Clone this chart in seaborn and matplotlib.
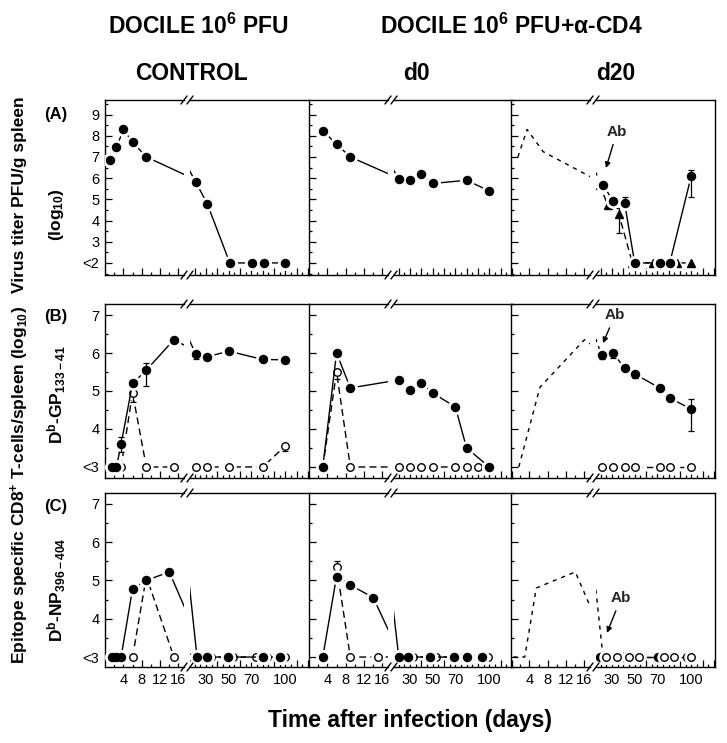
import matplotlib
matplotlib.use("Agg")
import matplotlib.pyplot as plt
import seaborn as sns
from matplotlib.lines import Line2D
from matplotlib.ticker import FixedLocator, FixedFormatter, MultipleLocator, NullFormatter

# ---------------- data: day after infection, log10 value ----------------
# (A) virus titer PFU/g spleen, 2 = "<2"
a_ctrl_day = [1, 2.5, 4, 6, 9, 21, 31, 51, 71, 81, 100]
a_ctrl_val = [6.85, 7.45, 8.3, 7.7, 7.0, 5.8, 4.8, 2, 2, 2, 2]

a_d0_day = [3, 6, 9, 20, 30, 40, 50, 80, 100]
a_d0_val = [8.25, 7.6, 7.0, 5.95, 5.9, 6.2, 5.75, 5.9, 5.4]

a_d20_ref_day = [1.5, 3.5, 7, 17, 20]
a_d20_ref_val = [7.0, 8.3, 7.25, 6.1, 5.75]
a_d20_circ_day = [22, 31, 41, 50, 72, 81, 100]
a_d20_circ_val = [5.7, 4.9, 4.85, 2, 2, 2, 6.1]
a_d20_tri_day = [19, 26, 36, 48, 66, 87, 100]
a_d20_tri_val = [5.7, 4.75, 4.3, 2, 2, 2, 2]
a_d20_circ_err = [(41, 4.85, 0.0, 0.25), (100, 6.1, 1.0, 0.3)]
a_d20_tri_err = [(36, 4.3, 0.9, 0.3)]

# (B) Db-GP33 specific CD8+ T cells, 3 = "<3"
b_ctrl_fill_day = [1.5, 2.5, 3.5, 6, 9, 15, 21, 31, 50, 80, 100]
b_ctrl_fill_val = [3, 3, 3.6, 5.2, 5.55, 6.35, 5.97, 5.9, 6.05, 5.83, 5.82]
b_ctrl_open_day = [3.5, 6, 9, 15, 21, 31, 50, 80, 100]
b_ctrl_open_val = [3, 4.95, 3, 3, 3, 3, 3, 3, 3.55]
b_ctrl_fill_err = [(3.5, 3.6, 0.2, 0.2), (6, 5.2, 0.0, 0.1), (9, 5.55, 0.42, 0.2),
                   (21, 5.97, 0.12, 0.0), (100, 5.82, 0.08, 0.0)]
b_ctrl_open_err = [(6, 4.95, 0.25, 0.0), (100, 3.55, 0.12, 0.0)]

b_d0_fill_day = [3, 6, 9, 20, 30, 40, 50, 70, 80, 100]
b_d0_fill_val = [3, 6.0, 5.08, 5.3, 5.03, 5.2, 4.95, 4.58, 3.5, 3]
b_d0_open_day = [3, 6, 9, 20, 30, 40, 50, 70, 80, 90]
b_d0_open_val = [3, 5.5, 3, 3, 3, 3, 3, 3, 3, 3]
b_d0_open_err = [(6, 5.5, 0.18, 0.0)]

b_d20_ref_day = [1.7, 6.3, 16, 20]
b_d20_ref_val = [3, 5.1, 6.35, 6.0]
b_d20_fill_day = [21, 31, 41, 50, 72, 81, 100]
b_d20_fill_val = [5.95, 6.0, 5.6, 5.45, 5.08, 4.82, 4.52]
b_d20_open_day = [21, 31, 41, 50, 72, 81, 100]
b_d20_open_val = [3, 3, 3, 3, 3, 3, 3]
b_d20_fill_err = [(21, 5.95, 0.12, 0.05), (31, 6.0, 0.12, 0.0), (50, 5.45, 0.1, 0.0),
                  (100, 4.52, 0.57, 0.28)]

# (C) Db-NP396 specific CD8+ T cells, 3 = "<3"
c_ctrl_fill_day = [1.5, 2.5, 3.5, 6, 9, 14, 22, 31, 49, 80, 95]
c_ctrl_fill_val = [3, 3, 3, 4.78, 5.0, 5.22, 3, 3, 3, 3, 3]
c_ctrl_open_day = [6, 9, 15, 18, 34, 54, 74, 84, 100]
c_ctrl_open_val = [3, 5.1, 3, 3, 3, 3, 3, 3, 3]

c_d0_fill_day = [3, 6, 9, 14, 20, 28, 48, 69, 80, 94]
c_d0_fill_val = [3, 5.1, 4.88, 4.55, 3, 3, 3, 3, 3, 3]
c_d0_open_day = [6, 9, 15, 18, 33, 53, 74, 83, 99]
c_d0_open_val = [5.35, 3, 3, 3, 3, 3, 3, 3, 3]
c_d0_open_err = [(6, 5.35, 0.0, 0.15)]

c_d20_ref_day = [0.5, 3, 5.5, 9.5, 14, 22]
c_d20_ref_val = [3, 3, 4.8, 5.0, 5.22, 3]
c_d20_fill_day = [19, 30, 40, 49, 71, 80, 96]
c_d20_fill_val = [3, 3, 3, 3, 3, 3, 3]
c_d20_open_day = [25, 34, 45, 54, 76, 85, 100]
c_d20_open_val = [3, 3, 3, 3, 3, 3, 3]

# "Ab" arrows in the d20 column: (tip day, tip value, text day, text value)
ab_arrows = {"A": (24.6, 6.48, 34.4, 8.2), "B": (22, 6.26, 32.6, 7.0), "C": (25.5, 3.63, 37.9, 4.54)}

a_yticks = [2, 3, 4, 5, 6, 7, 8, 9]
a_ylabels = ["<2", "3", "4", "5", "6", "7", "8", "9"]
bc_yticks = [3, 4, 5, 6, 7]
bc_ylabels = ["<3", "4", "5", "6", "7"]
early_ticks = [4, 8, 12, 16]
late_ticks = list(range(20, 121, 10))
late_labels = ["", "30", "", "50", "", "70", "", "", "100", "", ""]

# ---------------- layout (pixels) ----------------
W, H = 727, 743
COL_X = [105, 309, 511]
SEG_L, SEG_GAP, SEG_R = 79, 6, 119
SPLIT = 17          # days < SPLIT go on the early segment
ROW_Y = {"A": (100, 275), "B": (304, 478), "C": (493, 667)}
YLIM = {"A": (1.43, 9.69), "B": (2.71, 7.29), "C": (2.74, 7.28)}

sns.set_theme(style="ticks")
plt.rcParams["font.family"] = ["Liberation Sans", "DejaVu Sans"]
plt.rcParams["mathtext.fontset"] = "custom"
plt.rcParams["mathtext.rm"] = "Liberation Sans:bold"
plt.rcParams["mathtext.it"] = "Liberation Sans:bold"
plt.rcParams["mathtext.bf"] = "Liberation Sans:bold"
plt.rcParams["mathtext.default"] = "rm"

fig = plt.figure(figsize=(W / 100, H / 100), dpi=100)


def rect(x0, y_top, w, y_bot):
    return [x0 / W, 1 - y_bot / H, w / W, (y_bot - y_top) / H]


def ftext(x, y, s, **kw):
    fig.text(x / W, 1 - y / H, s, **kw)


def make_panel(row, col):
    y_top, y_bot = ROW_Y[row]
    x0 = COL_X[col]
    axl = fig.add_axes(rect(x0, y_top, SEG_L, y_bot))
    axr = fig.add_axes(rect(x0 + SEG_L + SEG_GAP, y_top, SEG_R, y_bot))
    for ax in (axl, axr):
        ax.set_facecolor("none")
        for s in ax.spines.values():
            s.set_linewidth(1.0)
            s.set_color("black")
        ax.spines["right"].set_visible(False)
        ax.spines["left"].set_visible(False)
        ax.tick_params(which="both", direction="in", colors="black", labelsize=10.5,
                       top=False, right=False, pad=4)
        ax.tick_params(which="major", length=5, width=0.9)
        ax.tick_params(which="minor", length=2.5, width=0.9)
    axl.spines["left"].set_visible(True)
    axr.tick_params(which="both", left=False, labelleft=False)
    if col == 2:
        axr.spines["right"].set_visible(True)

    axl.xaxis.set_major_locator(FixedLocator(early_ticks))
    axl.xaxis.set_minor_locator(FixedLocator([2, 6, 10, 14]))
    axr.xaxis.set_major_locator(FixedLocator(late_ticks))
    axr.xaxis.set_major_formatter(FixedFormatter(late_labels))
    axr.xaxis.set_minor_locator(MultipleLocator(5))
    if row != "C":
        axl.xaxis.set_major_formatter(NullFormatter())
        axr.xaxis.set_major_formatter(NullFormatter())

    ticks, labels = (a_yticks, a_ylabels) if row == "A" else (bc_yticks, bc_ylabels)
    axl.yaxis.set_major_locator(FixedLocator(ticks))
    axl.yaxis.set_minor_locator(MultipleLocator(0.5))
    if col == 0:
        axl.yaxis.set_major_formatter(FixedFormatter(labels))
    else:
        axl.yaxis.set_major_formatter(NullFormatter())

    # break marks "//" on top and bottom spines
    xc = x0 + SEG_L + SEG_GAP / 2
    for yy in (y_top, y_bot):
        for dx in (-3, 3):
            fig.add_artist(Line2D([(xc + dx - 3) / W, (xc + dx + 3) / W],
                                  [1 - (yy + 4) / H, 1 - (yy - 4) / H],
                                  color="black", lw=1.0))
    return axl, axr


def finish(pair, row):
    axl, axr = pair
    axl.set_xlim(0, 17.2)
    axr.set_xlim(15.8, 121)
    for ax in pair:
        ax.set_ylim(*YLIM[row])
        ax.set_xlabel("")
        ax.set_ylabel("")


def draw(pair, days, vals, marker="o", face="black", dashes=None, ms=5.8, err=None, z=3):
    for i, ax in enumerate(pair):
        sns.lineplot(x=days, y=vals, ax=ax, color="black", linewidth=1.0, sort=False,
                     estimator=None, legend=False, zorder=z)
        line = ax.lines[-1]
        if dashes:
            line.set_dashes(dashes)
        if marker is None:
            continue
        keep = [(d, v) for d, v in zip(days, vals) if (d < SPLIT) == (i == 0)]
        if not keep:
            continue
        md, mv = zip(*keep)
        ax.plot(md, mv, ls="none", marker=marker, ms=ms + 4, mfc="white", mec="white", zorder=z + 1)
        for d, v, lo, hi in (err or []):
            if (d < SPLIT) == (i == 0):
                ax.errorbar([d], [v], yerr=[[lo], [hi]], fmt="none", ecolor="black",
                            elinewidth=0.9, capsize=2.5, capthick=0.9, zorder=z + 1.5)
        ax.plot(md, mv, ls="none", marker=marker, ms=ms, mfc=face, mec="black",
                mew=1.0, zorder=z + 2)


LONG = (5, 3)
SHORT = (3, 3.5)
OPEN_MS = 5.4

# row A
p = make_panel("A", 0)
draw(p, a_ctrl_day, a_ctrl_val)
finish(p, "A")
p = make_panel("A", 1)
draw(p, a_d0_day, a_d0_val)
finish(p, "A")
p = make_panel("A", 2)
draw(p, a_d20_ref_day, a_d20_ref_val, marker=None, dashes=SHORT)
draw(p, a_d20_tri_day, a_d20_tri_val, marker="^", dashes=LONG, ms=6.2, err=a_d20_tri_err)
draw(p, a_d20_circ_day, a_d20_circ_val, err=a_d20_circ_err, z=6)
finish(p, "A")
ab_a = p[1]

# row B
p = make_panel("B", 0)
draw(p, b_ctrl_open_day, b_ctrl_open_val, face="white", dashes=LONG, ms=OPEN_MS, err=b_ctrl_open_err)
draw(p, b_ctrl_fill_day, b_ctrl_fill_val, err=b_ctrl_fill_err, z=6)
finish(p, "B")
p = make_panel("B", 1)
draw(p, b_d0_open_day, b_d0_open_val, face="white", dashes=LONG, ms=OPEN_MS, err=b_d0_open_err)
draw(p, b_d0_fill_day, b_d0_fill_val, z=6)
finish(p, "B")
p = make_panel("B", 2)
draw(p, b_d20_ref_day, b_d20_ref_val, marker=None, dashes=SHORT)
draw(p, b_d20_open_day, b_d20_open_val, face="white", dashes=LONG, ms=OPEN_MS)
draw(p, b_d20_fill_day, b_d20_fill_val, err=b_d20_fill_err, z=6)
finish(p, "B")
ab_b = p[1]

# row C
p = make_panel("C", 0)
draw(p, c_ctrl_open_day, c_ctrl_open_val, face="white", dashes=LONG, ms=OPEN_MS)
draw(p, c_ctrl_fill_day, c_ctrl_fill_val, z=6)
finish(p, "C")
p = make_panel("C", 1)
draw(p, c_d0_open_day, c_d0_open_val, face="white", dashes=LONG, ms=OPEN_MS, err=c_d0_open_err)
draw(p, c_d0_fill_day, c_d0_fill_val, z=6)
finish(p, "C")
p = make_panel("C", 2)
draw(p, c_d20_ref_day, c_d20_ref_val, marker=None, dashes=SHORT)
draw(p, c_d20_fill_day, c_d20_fill_val)
draw(p, c_d20_open_day, c_d20_open_val, face="white", ms=OPEN_MS, z=6)
finish(p, "C")
ab_c = p[1]

for ax, key in ((ab_a, "A"), (ab_b, "B"), (ab_c, "C")):
    tx, tv, lx, lv = ab_arrows[key]
    ax.annotate("Ab", xy=(tx, tv), xytext=(lx, lv), ha="center", va="center",
                fontsize=11, fontweight="bold", zorder=10,
                arrowprops=dict(arrowstyle="-|>", color="black", lw=1.0,
                                shrinkA=2, shrinkB=0, mutation_scale=8))

# headings and axis texts
bold = dict(fontweight="bold", color="black", ha="center", va="center")
ftext(198, 26, "DOCILE 10$^6$ PFU", fontsize=16.5, **bold)
ftext(511, 26, "DOCILE 10$^6$ PFU+α-CD4", fontsize=16.5, **bold)
ftext(191, 73, "CONTROL", fontsize=16.5, **bold)
ftext(416, 73, "d0", fontsize=16.5, **bold)
ftext(616, 73, "d20", fontsize=16.5, **bold)

ftext(20, 195, "Virus titer PFU/g spleen", rotation=90, fontsize=12.5, **bold)
ftext(57, 215, "(log$_{10}$)", rotation=90, fontsize=12.5, **bold)
ftext(56, 115, "(A)", fontsize=12, **bold)
ftext(20, 485, "Epitope specific CD8$^{+}$ T-cells/spleen (log$_{10}$)", rotation=90, fontsize=12.5, **bold)
ftext(56, 316, "(B)", fontsize=12, **bold)
ftext(57, 395, "D$^{b}$-GP$_{133-41}$", rotation=90, fontsize=12.5, **bold)
ftext(56, 506, "(C)", fontsize=12, **bold)
ftext(57, 590, "D$^{b}$-NP$_{396-404}$", rotation=90, fontsize=12.5, **bold)
ftext(410, 720, "Time after infection (days)", fontsize=16.5, **bold)

fig.savefig("out.png", dpi=100, facecolor="white")
